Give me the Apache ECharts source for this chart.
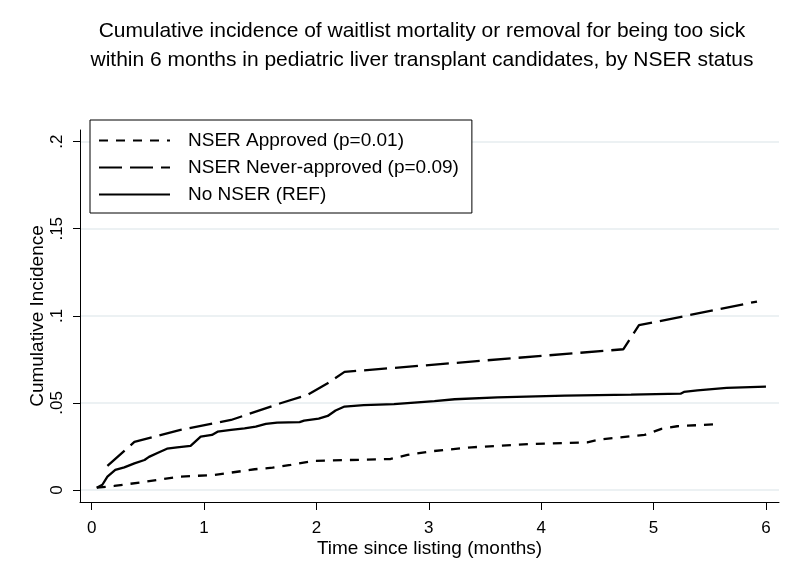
<!DOCTYPE html>
<html><head><meta charset="utf-8">
<script src="https://cdn.jsdelivr.net/npm/echarts@6/dist/echarts.min.js"></script>
<style>html,body{margin:0;padding:0;background:#fff}#c{width:800px;height:582px}</style>
</head><body><div id="c"></div>
<script>
const titleText = 'Cumulative incidence of waitlist mortality or removal for being too sick\nwithin 6 months in pediatric liver transplant candidates, by NSER status';
const xAxisTitle = 'Time since listing (months)';
const yAxisTitle = 'Cumulative Incidence';
const seriesNames = ['NSER Approved (p=0.01)', 'NSER Never-approved (p=0.09)', 'No NSER (REF)'];
const xTicks = [0, 1, 2, 3, 4, 5, 6];
const yTicks = [0, 0.05, 0.1, 0.15, 0.2];
const yTickLabels = ['0', '.05', '.1', '.15', '.2'];

const approvedT = [0.045, 0.20, 0.44, 0.79, 1.09, 1.45, 1.61, 1.77, 1.98, 2.66, 2.81, 3.02, 3.38, 3.91, 4.41, 4.53, 4.92, 5.07, 5.21, 5.53];
const approvedCI = [0.0013, 0.0023, 0.0044, 0.0077, 0.0086, 0.0119, 0.0128, 0.0144, 0.0167, 0.0178, 0.0201, 0.0222, 0.0245, 0.0264, 0.0274, 0.0291, 0.0316, 0.0351, 0.0366, 0.0377];

const neverT = [0.14, 0.38, 0.79, 1.24, 1.68, 1.92, 2.10, 2.25, 3.05, 4.73, 4.87, 5.92];
const neverCI = [0.0138, 0.0276, 0.0345, 0.0402, 0.0498, 0.0546, 0.0613, 0.0678, 0.0720, 0.0808, 0.0946, 0.1082];

const noNserT = [0.045, 0.095, 0.14, 0.21, 0.29, 0.38, 0.47, 0.51, 0.59, 0.67, 0.76, 0.88, 0.97, 1.07, 1.12, 1.24, 1.36, 1.46, 1.55, 1.65, 1.85, 1.89, 2.02, 2.10, 2.17, 2.25, 2.42, 2.69, 2.87, 3.05, 3.23, 3.61, 4.21, 4.80, 5.24, 5.27, 5.39, 5.65, 6.00];
const noNserCI = [0.0013, 0.003, 0.0077, 0.0115, 0.013, 0.0153, 0.0172, 0.019, 0.0214, 0.0237, 0.0245, 0.0253, 0.0306, 0.0316, 0.0335, 0.0345, 0.0354, 0.0364, 0.0379, 0.0387, 0.039, 0.0398, 0.041, 0.0425, 0.0456, 0.0479, 0.0487, 0.0493, 0.0502, 0.0510, 0.0521, 0.0532, 0.0542, 0.0548, 0.0553, 0.0563, 0.0572, 0.0586, 0.0593];

const zip = (a, b) => a.map((v, i) => [v, b[i]]);
const FONT = "'Liberation Sans', Arial, Helvetica, sans-serif";

const chart = echarts.init(document.getElementById('c'), null, {renderer: 'canvas'});
const mkSeries = (name, t, ci, dash) => ({
  name: name, type: 'line', data: zip(t, ci), symbol: 'none', showSymbol: false,
  animation: false, silent: true,
  itemStyle: {color: '#000'},
  lineStyle: {color: '#000', width: 2.3, type: dash, cap: 'butt'}
});

chart.setOption({
  backgroundColor: '#ffffff',
  animation: false,
  textStyle: {fontFamily: FONT},
  title: {
    text: titleText, left: 422, top: 17, textAlign: 'center', padding: 0,
    textStyle: {fontFamily: FONT, fontSize: 21, fontWeight: 'normal', color: '#000', lineHeight: 29}
  },
  legend: {
    orient: 'vertical', left: 90, top: 120,
    data: seriesNames,
    itemWidth: 71, itemHeight: 14, itemGap: 8,
    padding: [11, 13, 9, 8],
    backgroundColor: '#fff', borderColor: '#000', borderWidth: 1, borderRadius: 0,
    itemStyle: {opacity: 0, borderWidth: 0},
    lineStyle: {opacity: 1},
    textStyle: {fontFamily: FONT, fontSize: 19, color: '#000', padding: [0, 0, 0, 13]}
  },
  grid: {left: 80, right: 21, top: 130, bottom: 80, containLabel: false},
  xAxis: {
    type: 'value', min: -0.104, max: 6.116,
    name: xAxisTitle, nameLocation: 'middle', nameGap: 37, nameMoveOverlap: false,
    nameTextStyle: {fontFamily: FONT, fontSize: 19, color: '#000'},
    axisLine: {show: true, onZero: false, lineStyle: {color: '#000', width: 1}},
    axisTick: {show: true, customValues: xTicks, length: 8, lineStyle: {color: '#000', width: 1}},
    axisLabel: {show: true, customValues: xTicks, margin: 18, fontSize: 17, color: '#000', fontFamily: FONT,
      formatter: v => String(Math.round(v))},
    splitLine: {show: false}
  },
  yAxis: {
    type: 'value', min: -0.0069, max: 0.2067,
    name: yAxisTitle, nameLocation: 'middle', nameGap: 33, nameRotate: 90, nameMoveOverlap: false,
    nameTextStyle: {fontFamily: FONT, fontSize: 19, color: '#000'},
    axisLine: {show: true, onZero: false, lineStyle: {color: '#000', width: 1}},
    axisTick: {show: true, customValues: yTicks, length: 7, lineStyle: {color: '#000', width: 1}},
    axisLabel: {show: true, customValues: yTicks, margin: 14, rotate: 90, fontSize: 17, color: '#000', fontFamily: FONT,
      formatter: v => { const i = yTicks.findIndex(t => Math.abs(t - v) < 1e-9); return i >= 0 ? yTickLabels[i] : ''; }},
    splitLine: {show: true, lineStyle: {color: '#e6edef', width: 1.5}}
  },
  series: [
    mkSeries(seriesNames[0], approvedT, approvedCI, [9, 8]),
    mkSeries(seriesNames[1], neverT, neverCI, [23, 8]),
    mkSeries(seriesNames[2], noNserT, noNserCI, 'solid')
  ]
});
</script>
</body></html>
